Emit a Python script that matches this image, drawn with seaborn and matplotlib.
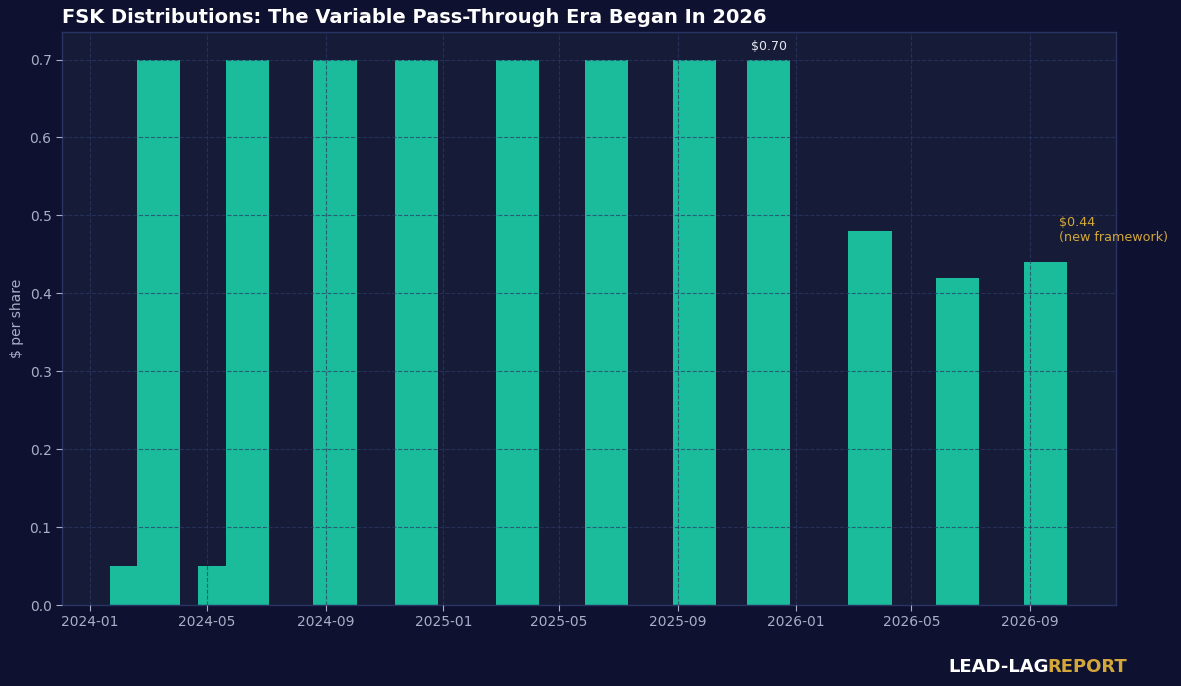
import matplotlib
matplotlib.use('Agg')
import matplotlib.pyplot as plt
import matplotlib.dates as mdates
import seaborn as sns
import pandas as pd

# distribution dates and amounts ($ per share)
pay_dates = ["2024-02-13", "2024-03-12", "2024-05-14", "2024-06-12", "2024-09-11",
             "2024-12-04", "2025-03-19", "2025-06-19", "2025-09-18", "2025-12-04",
             "2026-03-19", "2026-06-18", "2026-09-17"]
amounts = [0.05, 0.70, 0.05, 0.70, 0.70, 0.70, 0.70, 0.70, 0.70, 0.70, 0.48, 0.42, 0.44]
tick_dates = ["2024-01-01", "2024-05-01", "2024-09-01", "2025-01-01", "2025-05-01",
              "2025-09-01", "2026-01-01", "2026-05-01", "2026-09-01"]

BG = "#0e1130"
PANEL = "#161c38"
BAR = "#1abc9c"
GRID = "#2c3866"
TEXT = "#a9afc6"
GOLD = "#d4a73a"

df = pd.DataFrame({"date": pd.to_datetime(pay_dates), "amount": amounts})

sns.set_theme(style="darkgrid")
plt.rcParams["font.family"] = ["DejaVu Sans"]

fig, ax = plt.subplots(figsize=(11.81, 6.86), dpi=100)
fig.patch.set_facecolor(BG)
ax.set_facecolor(PANEL)
fig.subplots_adjust(left=0.0525, right=0.945, top=0.953, bottom=0.118)

ax.bar(df["date"], df["amount"], width=45, color=BAR, linewidth=0, zorder=1)

ax.set_axisbelow(False)
ax.grid(True, color=GRID, linestyle="--", linewidth=0.8, alpha=0.7)

ax.set_xlim(pd.Timestamp("2023-12-03"), pd.Timestamp("2026-11-29"))
ax.set_ylim(0, 0.735)
ax.set_xticks(pd.to_datetime(tick_dates))
ax.xaxis.set_major_formatter(mdates.DateFormatter("%Y-%m"))
ax.set_yticks([0.0, 0.1, 0.2, 0.3, 0.4, 0.5, 0.6, 0.7])
ax.yaxis.set_major_formatter(matplotlib.ticker.FormatStrFormatter("%.1f"))

ax.tick_params(colors=TEXT, labelsize=10, length=4, width=0.8, bottom=True, left=True)
for sp in ax.spines.values():
    sp.set_color("#2a3462")
    sp.set_linewidth(1)

ax.set_ylabel("$ per share", color=TEXT, fontsize=10)
ax.set_title("FSK Distributions: The Variable Pass-Through Era Began In 2026",
             loc="left", color="white", fontsize=14, fontweight="bold", pad=7, x=0.0)

# annotations
last_full = df.iloc[9]
ax.annotate(f"${last_full['amount']:.2f}", (last_full["date"], last_full["amount"]),
            xytext=(0, 5), textcoords="offset points", ha="center", va="bottom",
            color="#e6e8f0", fontsize=9)
last = df.iloc[-1]
ax.annotate(f"${last['amount']:.2f}\n(new framework)", (last["date"], last["amount"]),
            xytext=(10, 13), textcoords="offset points", ha="left", va="bottom",
            color=GOLD, fontsize=9.2, annotation_clip=False)

# watermark
fig.text(0.803, 0.021, "LEAD-LAG", color="white", fontsize=13, fontweight="bold", ha="left")
fig.text(0.887, 0.021, "REPORT", color=GOLD, fontsize=13, fontweight="bold", ha="left")

fig.savefig("out.png", dpi=100, facecolor=BG)
